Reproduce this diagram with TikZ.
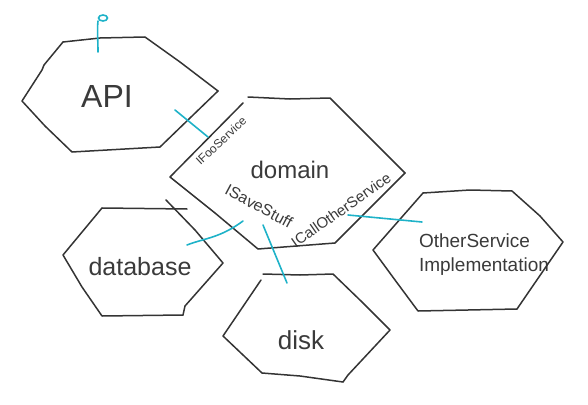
\documentclass[tikz,border=0pt]{standalone}
\usepackage{fontspec}
\setmainfont{Liberation Sans}
\usepackage{tikz}
\definecolor{pen}{RGB}{52,52,52}
\definecolor{marker}{RGB}{30,178,200}
\definecolor{ink}{RGB}{58,58,58}

\begin{document}
\begin{tikzpicture}[x=1pt,y=-1pt,
  edge/.style={draw=pen,line width=1.5pt,line join=round,line cap=round},
  pin/.style={draw=marker,line width=1.6pt,line cap=round},
  label/.style={text=ink,inner sep=0pt}]

\useasboundingbox (0,0) rectangle (588,404);

\node [label,font=\fontsize{32}{36}\selectfont] (api) at (107,96) {API};
\node [label,font=\fontsize{24}{28}\selectfont] (domain) at (290,170) {domain};
\node [label,font=\fontsize{25}{30}\selectfont] (database) at (140,267) {database};
\node [label,font=\fontsize{26}{30}\selectfont] (disk) at (301,340) {disk};
\node [label,font=\fontsize{19}{24}\selectfont,align=left] (other) at (484,255) {OtherService\\Implementation};
\node [label,font=\fontsize{12}{14}\selectfont,rotate=43] (ifoo) at (221,141) {IFooService};
\node [label,font=\fontsize{16}{18}\selectfont,rotate=-28] (isave) at (259,206) {ISaveStuff};
\node [label,font=\fontsize{15}{18}\selectfont,rotate=35] (icall) at (341,210) {ICallOtherService};

% API
\draw [edge] (63,42) -- (100,38) -- (145,37) -- (180,62) -- (218,91);
\draw [edge] (218,91) -- (190,118) -- (160,147) -- (72,152) -- (45,126) -- (22,101) -- (42,70) -- (44,65) -- (63,42);
% domain
\draw [edge] (248,97) -- (290,99) -- (330,98) -- (368,136) -- (405,173);
\draw [edge] (405,173) -- (370,208) -- (335,243) -- (258,249) -- (215,213) -- (170,177) -- (243,103);
% database
\draw [edge] (102,208) -- (187,209);
\draw [edge] (166,200) -- (195,230) -- (223,263) -- (185,306) -- (183,315);
\draw [edge] (183,315) -- (102,316) -- (82,287) -- (63,255) -- (102,208);
% disk
\draw [edge] (263,274) -- (300,275) -- (333,274) -- (362,302) -- (390,330) -- (348,375) -- (343,382);
\draw [edge] (343,382) -- (300,376) -- (262,373) -- (223,336) -- (261,280);
% other service
\draw [edge] (423,193) -- (470,190) -- (512,191) -- (540,216) -- (563,242) -- (530,290) -- (517,309);
\draw [edge] (517,309) -- (468,310) -- (418,311) -- (395,280) -- (373,250) -- (423,193);

% interface marks
\draw [pin] (98,52) .. controls (98,40) and (97,30) .. (98,21);
\draw [pin] (103,18) ellipse (4.5 and 3);
\draw [pin] (175,110) -- (208,137);
\draw [pin] (187,245) .. controls (205,238) and (220,238) .. (243,221);
\draw [pin] (263,225) -- (287,283);
\draw [pin] (348,215) -- (422,222);

\end{tikzpicture}
\end{document}
